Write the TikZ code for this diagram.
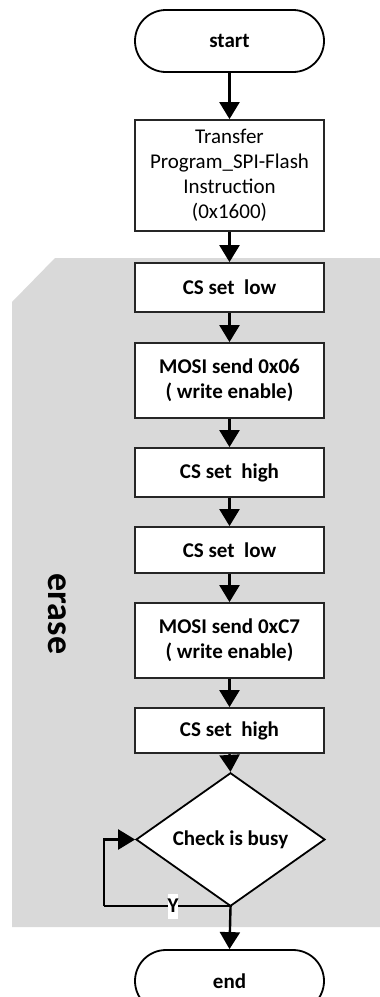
\documentclass[tikz,border=0pt]{standalone}
\usepackage{fontspec}
\setmainfont{Carlito}
\usetikzlibrary{arrows.meta,shapes.geometric}
\definecolor{bandgray}{RGB}{217,217,217}
\tikzset{
  every node/.style={font=\fontsize{21}{25}\selectfont},
  procbox/.style={draw=black!85, line width=1.8pt, fill=white, minimum width=189pt, align=center, inner sep=0pt, font=\fontsize{21}{25}\selectfont\bfseries},
  termbox/.style={draw=black, line width=1.8pt, fill=white, minimum width=189pt, minimum height=62pt, rounded corners=31pt, font=\fontsize{21}{25}\selectfont\bfseries},
  decbox/.style={diamond, draw=black, line width=1.8pt, fill=white, minimum width=189pt, minimum height=111pt, inner sep=0pt, font=\fontsize{21}{25}\selectfont\bfseries},
  flow/.style={line width=2.4pt, -{Triangle[width=20pt,length=17pt]}},
  flowplain/.style={line width=2.4pt}
}
\begin{document}
\begin{tikzpicture}[x=1pt,y=-1pt]
\useasboundingbox (0,0) rectangle (380,997);
\fill[bandgray] (12,302) -- (55,258) -- (380,258) -- (380,927) -- (12,927) -- cycle;
\node[rotate=-90, font=\fontsize{36}{40}\selectfont\bfseries] (erase) at (57,614) {erase};

\node[termbox] (start) at (229.5,41) {start};
\node[procbox, minimum height=111pt, font=\fontsize{21}{25}\selectfont] (xfer) at (229.5,175.5) {Transfer\\Program\_SPI-Flash\\Instruction\\(0x1600)};
\node[procbox, minimum height=49pt] (csl1) at (229.5,287.5) {CS set\ \ low};
\node[procbox, minimum height=75pt] (mosi1) at (229.5,380.5) {MOSI send 0x06\\( write enable)};
\node[procbox, minimum height=49pt] (csh1) at (229.5,472.5) {CS set\ \ high};
\node[procbox, minimum height=46pt] (csl2) at (229.5,550) {CS set\ \ low};
\node[procbox, minimum height=75pt] (mosi2) at (229.5,640.5) {MOSI send 0xC7\\( write enable)};
\node[procbox, minimum height=45pt] (csh2) at (229.5,730.5) {CS set\ \ high};
\node[decbox] (busy) at (230.5,839.5) {Check is busy};
\node[termbox] (end) at (229.5,981) {end};

\draw[flow] (start) -- (xfer);
\draw[flow] (xfer) -- (csl1);
\draw[flow] (csl1) -- (mosi1);
\draw[flow] (mosi1) -- (csh1);
\draw[flow] (csh1) -- (csl2);
\draw[flow] (csl2) -- (mosi2);
\draw[flow] (mosi2) -- (csh2);
\draw[flow] (csh2.south) -- (busy.north);
\draw[flow] (busy.south) -- (end.north);

\coordinate (loopc) at (104,906);
\draw[flowplain] (busy.south) |- (loopc);
\draw[flow] (loopc) |- (busy.west);
\node[fill=white, inner sep=0pt, minimum height=25pt, font=\fontsize{21}{25}\selectfont\bfseries] (ylab) at (173,906) {Y};
\end{tikzpicture}
\end{document}
